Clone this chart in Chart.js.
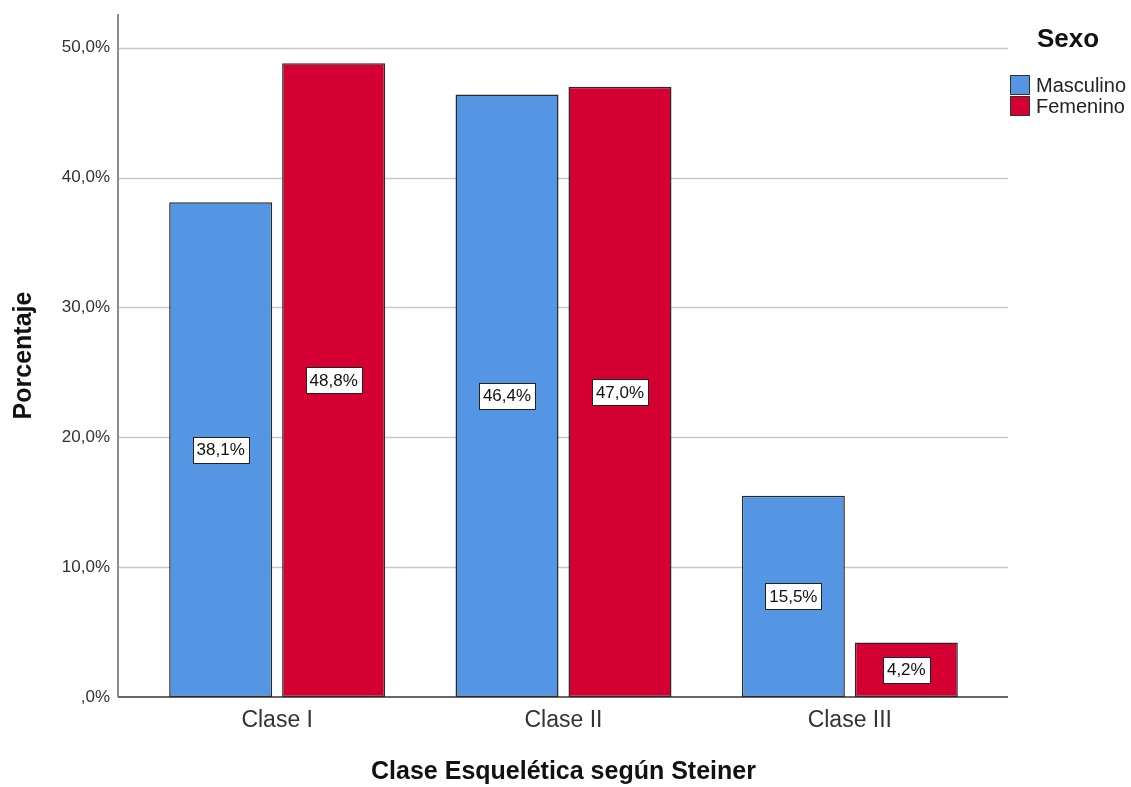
<!DOCTYPE html>
<html>
<head>
<meta charset="utf-8">
<script src="https://cdn.jsdelivr.net/npm/chart.js@4.4.1/dist/chart.umd.min.js"></script>
<style>
  html, body { margin: 0; padding: 0; background: #fff; }
  #chart { display: block; }
</style>
</head>
<body>
<canvas id="chart" width="1131" height="787"></canvas>
<script>
// values
const categories = ['Clase I', 'Clase II', 'Clase III'];
const masculino = [38.1, 46.4, 15.5];
const femenino = [48.8, 47.0, 4.2];
const yTicks = [0, 10, 20, 30, 40, 50];

const FONT = "'Liberation Sans', Arial, sans-serif";
const fmt = v => (v === 0 ? '' : v.toFixed(1).replace('.', ',')) + '%';
const fmt0 = v => v === 0 ? ',0%' : fmt(v);

// grid lines + axis lines, drawn a bit wider than the category area like SPSS
const axesPlugin = {
    id: 'axesPlugin',
    beforeDatasetsDraw(chart) {
        const ctx = chart.ctx;
        const y = chart.scales.y;
        const left = chart.chartArea.left - 16;
        const right = chart.chartArea.right + 15;
        ctx.save();
        ctx.strokeStyle = '#c8c8c8';
        ctx.lineWidth = 1.5;
        yTicks.forEach(t => {
            if (t === 0) return;
            const py = Math.round(y.getPixelForValue(t)) + 0.5;
            ctx.beginPath();
            ctx.moveTo(left, py);
            ctx.lineTo(right, py);
            ctx.stroke();
        });
        ctx.strokeStyle = '#8c8c8c';
        ctx.lineWidth = 2;
        ctx.beginPath();
        ctx.moveTo(left, y.top);
        ctx.lineTo(left, y.bottom);
        ctx.stroke();
        ctx.strokeStyle = '#666';
        ctx.beginPath();
        ctx.moveTo(left, y.bottom);
        ctx.lineTo(right, y.bottom);
        ctx.stroke();
        ctx.restore();
    }
};

// value boxes in the middle of each bar
const boxLabels = {
    id: 'boxLabels',
    afterDatasetsDraw(chart) {
        const ctx = chart.ctx;
        ctx.save();
        ctx.font = '17px ' + FONT;
        ctx.textAlign = 'center';
        ctx.textBaseline = 'middle';
        chart.data.datasets.forEach((ds, i) => {
            chart.getDatasetMeta(i).data.forEach((bar, j) => {
                const txt = fmt(ds.data[j]);
                const w = ctx.measureText(txt).width + 8;
                const h = 26;
                const cx = bar.x;
                const cy = (bar.y + bar.base) / 2;
                const x0 = Math.round(cx - w / 2) + 0.5;
                const y0 = Math.round(cy - h / 2) + 0.5;
                ctx.fillStyle = '#fff';
                ctx.fillRect(x0, y0, Math.round(w), h);
                ctx.strokeStyle = '#222';
                ctx.lineWidth = 1;
                ctx.strokeRect(x0, y0, Math.round(w), h);
                ctx.fillStyle = '#111';
                ctx.fillText(txt, cx, cy + 1);
            });
        });
        ctx.restore();
    }
};

// legend on the right with the "Sexo" title
const sideLegend = {
    id: 'sideLegend',
    afterDraw(chart) {
        const ctx = chart.ctx;
        ctx.save();
        ctx.fillStyle = '#111';
        ctx.font = 'bold 26px ' + FONT;
        ctx.textAlign = 'center';
        ctx.textBaseline = 'middle';
        ctx.fillText('Sexo', 1068, 40);
        ctx.font = '20px ' + FONT;
        ctx.textAlign = 'left';
        chart.data.datasets.forEach((ds, i) => {
            const top = 75 + i * 21;
            ctx.fillStyle = ds.backgroundColor;
            ctx.fillRect(1010.5, top + 0.5, 19, 19);
            ctx.strokeStyle = '#333';
            ctx.lineWidth = 1;
            ctx.strokeRect(1010.5, top + 0.5, 19, 19);
            ctx.fillStyle = '#222';
            ctx.fillText(ds.label, 1036, top + 11);
        });
        ctx.restore();
    }
};

new Chart(document.getElementById('chart'), {
    type: 'bar',
    data: {
        labels: categories,
        datasets: [
            {
                label: 'Masculino',
                data: masculino,
                backgroundColor: '#5596e4',
                borderColor: '#2a2a2a',
                borderWidth: 1.5,
                borderSkipped: false,
                categoryPercentage: 0.789,
                barPercentage: 0.912
            },
            {
                label: 'Femenino',
                data: femenino,
                backgroundColor: '#d50032',
                borderColor: '#2a2a2a',
                borderWidth: 1.5,
                borderSkipped: false,
                categoryPercentage: 0.789,
                barPercentage: 0.912
            }
        ]
    },
    options: {
        responsive: false,
        animation: false,
        devicePixelRatio: 1,
        layout: { padding: { top: 14, right: 138, left: 0, bottom: 0 } },
        plugins: {
            legend: { display: false },
            tooltip: { enabled: false }
        },
        scales: {
            x: {
                grid: { display: false, drawTicks: false },
                border: { display: false },
                ticks: {
                    padding: 10,
                    color: '#333',
                    font: { family: FONT, size: 23 }
                },
                title: {
                    display: true,
                    text: 'Clase Esquelética según Steiner',
                    color: '#111',
                    font: { family: FONT, size: 25, weight: 'bold', lineHeight: 1.2 },
                    padding: { top: 0, bottom: 0 }
                },
                afterFit: s => { s.height = 90; s.paddingLeft = 0; s.paddingRight = 0; }
            },
            y: {
                min: 0,
                max: 52.6,
                grid: { display: false, drawTicks: false },
                border: { display: false },
                ticks: {
                    stepSize: 10,
                    padding: 24,
                    color: '#333',
                    font: { family: FONT, size: 17 },
                    callback: v => fmt0(v)
                },
                afterBuildTicks: s => {
                    s.ticks = yTicks.map(v => ({ value: v }));
                },
                title: {
                    display: true,
                    text: 'Porcentaje',
                    color: '#111',
                    font: { family: FONT, size: 25, weight: 'bold', lineHeight: 1.2 },
                    padding: { top: 9, bottom: 0 }
                },
                afterFit: s => { s.width = 134; s.paddingTop = 0; s.paddingBottom = 0; }
            }
        }
    },
    plugins: [axesPlugin, boxLabels, sideLegend]
});
</script>
</body>
</html>
